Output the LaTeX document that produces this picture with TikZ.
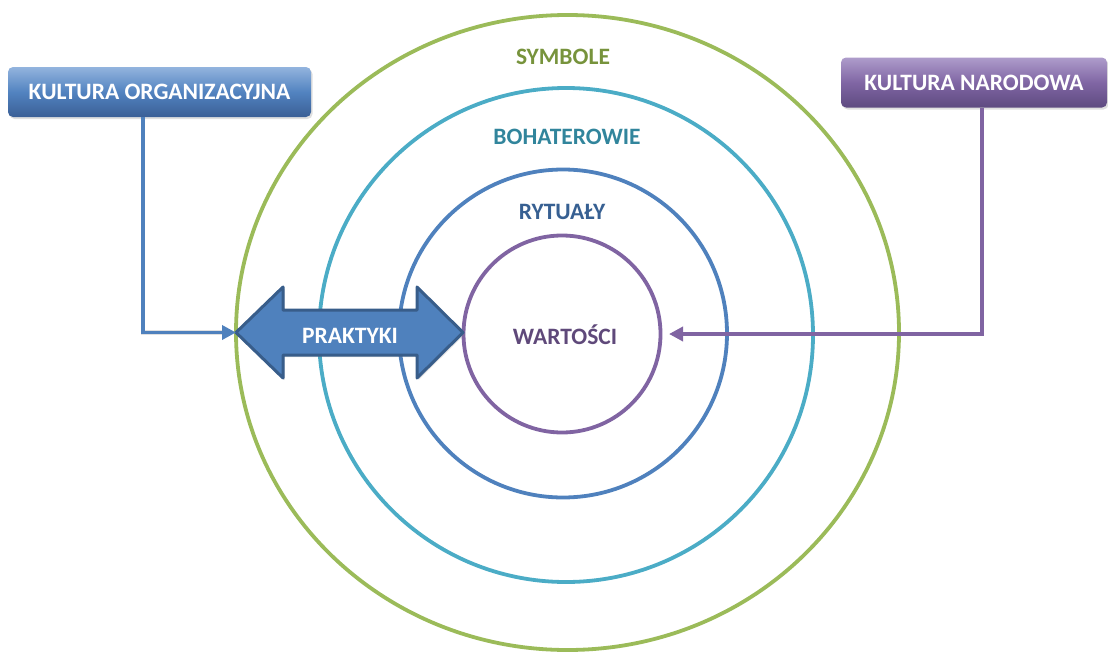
\documentclass[tikz,border=0pt]{standalone}
\usepackage{fontspec}
\setmainfont{Carlito}
\usetikzlibrary{shadows,arrows.meta,calc}

\definecolor{ringgreen}{HTML}{9BBB59}
\definecolor{ringteal}{HTML}{4BACC6}
\definecolor{ringblue}{HTML}{4F81BD}
\definecolor{ringpurple}{HTML}{8064A2}
\definecolor{txtgreen}{HTML}{77933C}
\definecolor{txtteal}{HTML}{31859C}
\definecolor{txtblue}{HTML}{376092}
\definecolor{txtpurple}{HTML}{5F497A}
\definecolor{arrowedge}{HTML}{385D8A}
\definecolor{bluetop}{HTML}{93B4DE}
\definecolor{bluemid}{HTML}{5283C0}
\definecolor{bluebot}{HTML}{3A5F96}
\definecolor{purptop}{HTML}{AE9CCB}
\definecolor{purpmid}{HTML}{8066A4}
\definecolor{purpbot}{HTML}{5E4A80}

\tikzset{
  ring/.style={line width=3.8pt},
  bigbold/.style={font=\fontsize{23.5}{26}\selectfont\bfseries},
  layerlabel/.style={bigbold, inner sep=0pt},
  kbox/.style={rounded corners=5pt, minimum height=50pt, inner sep=0pt,
    text=white, bigbold,
    drop shadow={opacity=0.25, shadow xshift=1.5pt, shadow yshift=-2pt}},
  conn/.style={line width=3.6pt, -{Triangle[length=14pt,width=14pt]}},
  connshadow/.style={line width=4.5pt, black, opacity=0.12,
    shift={(1.5pt,2pt)}},
}

\begin{document}
\begin{tikzpicture}[x=1pt,y=-1pt]
\useasboundingbox (0,0) rectangle (1108,653);

% concentric layers
\draw[ring, ringgreen]  (567.5,332.5) ellipse [x radius=331.5, y radius=317.5];
\draw[ring, ringteal]   (566,335) circle [radius=247];
\draw[ring, ringblue]   (563,333.5) circle [radius=164];
\draw[ring, ringpurple] (562,334) circle [radius=98.5];

% layer names
\node[layerlabel, text=txtgreen]  (symb) at (563,57)  {SYMBOLE};
\node[layerlabel, text=txtteal]   (boh)  at (567,137) {BOHATEROWIE};
\node[layerlabel, text=txtblue]   (ryt)  at (562,212) {RYTUAŁY};
\node[layerlabel, text=txtpurple] (wart) at (565,335) {WARTOŚCI};

% double arrow across the outer layers
\coordinate (arrL) at (236,332.5);
\coordinate (arrR) at (463,332.5);
\filldraw[fill=ringblue, draw=arrowedge, line width=3pt, line join=round,
  drop shadow={opacity=0.25, shadow xshift=1.5pt, shadow yshift=-2pt}]
  (arrL) -- (283,287) -- (283,310) -- (417,310) -- (417,287) -- (arrR)
  -- (417,378) -- (417,355) -- (283,355) -- (283,378) -- cycle;
\node[text=white, bigbold, inner sep=0pt] (prak) at (350,336) {PRAKTYKI};

% source boxes
\node[kbox, minimum width=303pt, top color=bluetop, bottom color=bluebot,
  middle color=bluemid] (ko) at (159.5,92) {KULTURA ORGANIZACYJNA};
\node[kbox, minimum width=266pt, top color=purptop, bottom color=purpbot,
  middle color=purpmid] (kn) at (974,82.5) {KULTURA NARODOWA};

% connectors, each with a soft shadow beneath it
\coordinate (wartR) at (669,334);
\draw[connshadow] ([xshift=-16.5pt]ko.south) |- ([xshift=-10pt]arrL);
\draw[connshadow] ([xshift=8pt]kn.south) |- ([xshift=10pt]wartR);
\draw[conn, ringblue] ([xshift=-16.5pt]ko.south) |- (arrL);
\draw[conn, ringpurple] ([xshift=8pt]kn.south) |- (wartR);
\end{tikzpicture}
\end{document}
